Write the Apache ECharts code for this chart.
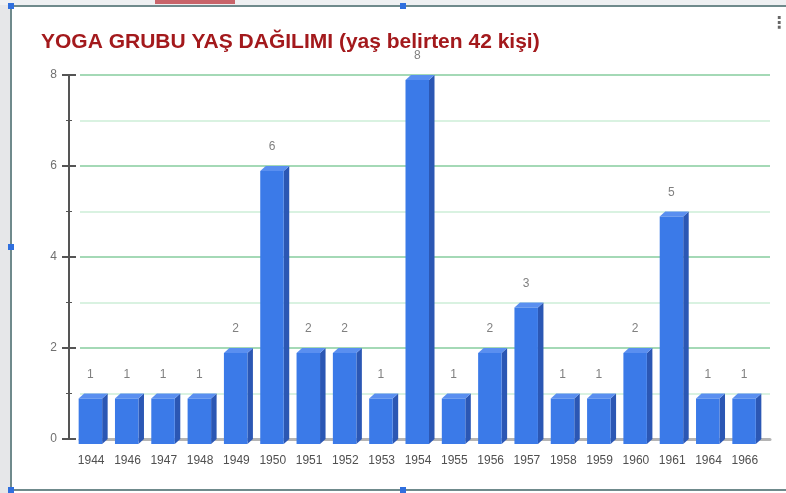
<!DOCTYPE html>
<html>
<head>
<meta charset="utf-8">
<script src="https://cdn.jsdelivr.net/npm/echarts@6/dist/echarts.min.js"></script>
<style>
  html, body { margin: 0; padding: 0; background: #ffffff; }
  #chart { width: 786px; height: 493px; }
</style>
</head>
<body>
<div id="chart"></div>
<script>
// yıllar ve kişi sayıları
const years = ['1944', '1946', '1947', '1948', '1949', '1950', '1951', '1952', '1953', '1954',
  '1955', '1956', '1957', '1958', '1959', '1960', '1961', '1964', '1966'];
const counts = [1, 1, 1, 1, 2, 6, 2, 2, 1, 8, 1, 2, 3, 1, 1, 2, 5, 1, 1];
const yTicks = [0, 2, 4, 6, 8];

const chart = echarts.init(document.getElementById('chart'));

// 3D görünümlü çubuk
function renderBar(params, api) {
  const c = api.coord([api.value(0), api.value(1)]);
  const base = api.coord([api.value(0), 0]);
  const dx = 5.5, dy = 5;
  const fl = c[0] - 19.5, fr = c[0] + 4;
  const top = c[1] + dy, bottom = base[1] + dy;
  return {
    type: 'group',
    children: [
      { type: 'polygon', shape: { points: [[fr, top], [fr + dx, top - dy], [fr + dx, base[1]], [fr, bottom]] },
        style: { fill: '#2b57b4' } },
      { type: 'polygon', shape: { points: [[fl, top], [fr, top], [fr + dx, top - dy], [fl + dx, top - dy]] },
        style: { fill: '#5a8ff0' } },
      { type: 'rect', shape: { x: fl, y: top, width: fr - fl, height: bottom - top },
        style: { fill: '#3b7ae8' } },
      { type: 'text', x: (fl + fr) / 2, y: c[1] - 19,
        style: { text: String(api.value(1)), fill: '#808080', fontSize: 12,
          fontFamily: 'Liberation Sans', align: 'center', verticalAlign: 'middle' } }
    ]
  };
}

chart.setOption({
  animation: false,
  title: {
    text: 'YOGA GRUBU YAŞ DAĞILIMI (yaş belirten 42 kişi)',
    left: 36, top: 27,
    textStyle: { color: '#a3191c', fontSize: 21, fontWeight: 'bold', fontFamily: 'Liberation Sans' }
  },
  grid: { left: 80, right: 16, top: 75, bottom: 54 },
  xAxis: {
    type: 'category',
    data: years,
    axisLine: { lineStyle: { color: '#b4b4b4', width: 3 } },
    axisTick: { show: false },
    axisLabel: { color: '#505050', fontSize: 12, fontFamily: 'Liberation Sans', margin: 16,
      padding: [0, 14, 0, 0], interval: 0 }
  },
  yAxis: [{
    type: 'value',
    min: 0, max: 8, interval: 2,
    offset: 11,
    axisLine: { show: true, lineStyle: { color: '#555555', width: 2 } },
    axisTick: { show: true, length: 7, lineStyle: { color: '#555555', width: 2 } },
    minorTick: { show: true, splitNumber: 2, length: 3, lineStyle: { color: '#555555', width: 1 } },
    axisLabel: { color: '#707070', fontSize: 12, fontFamily: 'Liberation Sans', margin: 12,
      customValues: yTicks },
    splitLine: { lineStyle: { color: '#86cc9e', width: 1.5 } },
    minorSplitLine: { show: true, lineStyle: { color: '#cdeed8', width: 1.5 } }
  }, {
    type: 'value',
    min: 0, max: 8, interval: 2,
    position: 'left',
    offset: 11,
    axisLine: { show: false },
    axisTick: { show: true, inside: true, length: 7, lineStyle: { color: '#555555', width: 2 } },
    minorTick: { show: true, splitNumber: 2, length: 3, lineStyle: { color: '#555555', width: 1 } },
    axisLabel: { show: false },
    splitLine: { show: false }
  }],
  series: [{
    type: 'custom',
    renderItem: renderBar,
    encode: { x: 0, y: 1 },
    data: counts.map((v, i) => [i, v]),
    z: 5
  }],
  graphic: [
    { type: 'rect', shape: { x: 0, y: 0, width: 10, height: 493 }, style: { fill: '#e6e7e9' }, silent: true },
    { type: 'rect', shape: { x: 0, y: 0, width: 786, height: 5 }, style: { fill: '#eef0f2' }, silent: true },
    { type: 'rect', shape: { x: 155, y: 0, width: 80, height: 4 }, style: { fill: '#c8646a' }, silent: true },
    { type: 'line', shape: { x1: 11, y1: 6, x2: 786, y2: 6 }, style: { stroke: '#6f8a8c', lineWidth: 2 }, silent: true },
    { type: 'line', shape: { x1: 11, y1: 6, x2: 11, y2: 490 }, style: { stroke: '#6f8a8c', lineWidth: 2 }, silent: true },
    { type: 'line', shape: { x1: 11, y1: 490, x2: 786, y2: 490 }, style: { stroke: '#6f8a8c', lineWidth: 2 }, silent: true },
    { type: 'rect', shape: { x: 8, y: 3, width: 6, height: 6 }, style: { fill: '#2f6fde' }, silent: true },
    { type: 'rect', shape: { x: 400, y: 3, width: 6, height: 6 }, style: { fill: '#2f6fde' }, silent: true },
    { type: 'rect', shape: { x: 8, y: 244, width: 6, height: 6 }, style: { fill: '#2f6fde' }, silent: true },
    { type: 'rect', shape: { x: 400, y: 487, width: 6, height: 6 }, style: { fill: '#2f6fde' }, silent: true },
    { type: 'rect', shape: { x: 8, y: 487, width: 6, height: 6 }, style: { fill: '#2f6fde' }, silent: true },
    { type: 'text', x: 779, y: 24, style: { text: '⋮', fill: '#666666', fontSize: 16, fontWeight: 'bold',
      align: 'center', verticalAlign: 'middle', fontFamily: 'DejaVu Sans' }, silent: true }
  ]
});
</script>
</body>
</html>
